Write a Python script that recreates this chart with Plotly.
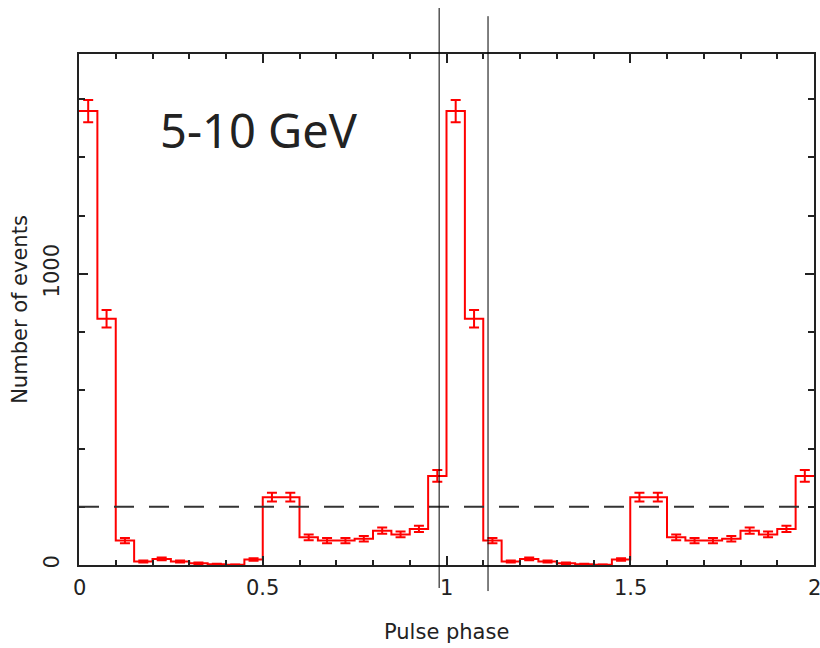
import plotly.graph_objects as go

# Pulse-phase histogram, 20 bins per cycle, shown over two cycles
bin_width = 0.05
counts_one_cycle = [1559, 846, 84, 12, 21, 12, 6, 3, 1, 19,
                    233, 233, 95, 84, 84, 90, 118, 105, 124, 306]
errors_one_cycle = [38, 30, 9, 3.5, 4.6, 3.5, 2.4, 1.7, 1, 4.4,
                    15, 15, 10, 9, 9, 9.5, 11, 10, 11, 20]
n_cycles = 2
baseline = 200
marker_phases = [0.98, 1.113]
energy_label = "5-10 GeV"
x_tick_vals = [0, 0.5, 1, 1.5, 2]
x_tick_text = ["0", "0.5", "1", "1.5", "2"]

counts = counts_one_cycle * n_cycles
errors = errors_one_cycle * n_cycles
n_bins = len(counts)
edges = [i * bin_width for i in range(n_bins + 1)]
centers = [(edges[i] + edges[i + 1]) / 2 for i in range(n_bins)]

RED = "#ff0000"
INK = "#222222"
label_font = dict(family="DejaVu Sans", size=21, color=INK)

fig = go.Figure()

# Histogram outline
fig.add_trace(go.Scatter(
    x=edges, y=counts + [counts[-1]],
    mode="lines", line=dict(color=RED, width=2, shape="hv"),
    hoverinfo="skip", showlegend=False,
))

# Poisson error bars at bin centres
fig.add_trace(go.Scatter(
    x=centers, y=counts, mode="markers",
    marker=dict(size=1, color=RED),
    error_y=dict(type="data", array=errors, visible=True,
                 color=RED, thickness=2, width=5),
    showlegend=False,
))

# Reference level
fig.add_shape(type="line", xref="paper", yref="y", x0=0, x1=1,
              y0=baseline, y1=baseline,
              line=dict(color="#333333", width=2, dash="20px,15px"))

# Phase markers extending past the frame
tops = [1.09, 1.074]
bottoms = [-0.045, -0.051]
for ph, t, b in zip(marker_phases, tops, bottoms):
    fig.add_shape(type="line", xref="x", yref="paper", x0=ph, x1=ph,
                  y0=b, y1=t, line=dict(color="#000000", width=1))

fig.add_annotation(text=energy_label, xref="paper", yref="paper",
                   x=0.108, y=0.851, xanchor="left", yanchor="middle",
                   showarrow=False,
                   font=dict(family="Noto Sans", size=47, color=INK))

# Tick labels drawn as annotations so the one at the right edge is kept
for v, t in zip(x_tick_vals, x_tick_text):
    fig.add_annotation(text=t, xref="x", yref="paper", x=v, y=0,
                       xanchor="center", yanchor="top", yshift=-9,
                       showarrow=False, font=label_font)

axis_common = dict(showline=True, linecolor=INK, linewidth=2, mirror="ticks",
                   ticks="inside", tickcolor=INK, tickwidth=2,
                   showgrid=False, zeroline=False, tickfont=label_font)

fig.update_xaxes(range=[0, 2], tickvals=x_tick_vals,
                 ticktext=[""] * len(x_tick_vals), ticklen=9,
                 minor=dict(dtick=0.1, ticks="inside", ticklen=5,
                            tickcolor=INK, tickwidth=2),
                 **axis_common)
fig.update_yaxes(range=[0, 1755], tickvals=[0, 1000], ticktext=["0", "1000"],
                 tickangle=-90, ticklen=9,
                 minor=dict(dtick=200, ticks="inside", ticklen=6,
                            tickcolor=INK, tickwidth=2),
                 title=dict(text="Number of events", font=label_font, standoff=6),
                 ticklabelstandoff=10,
                 **axis_common)

# Axis title placed below the tick labels
fig.add_annotation(text="Pulse phase", xref="paper", yref="paper",
                   x=0.5, y=0, xanchor="center", yanchor="middle",
                   yshift=-67, showarrow=False, font=label_font)

fig.update_layout(width=820, height=648,
                  margin=dict(l=79, r=4, t=54, b=83),
                  paper_bgcolor="white", plot_bgcolor="white")

fig.write_html("out.html")
